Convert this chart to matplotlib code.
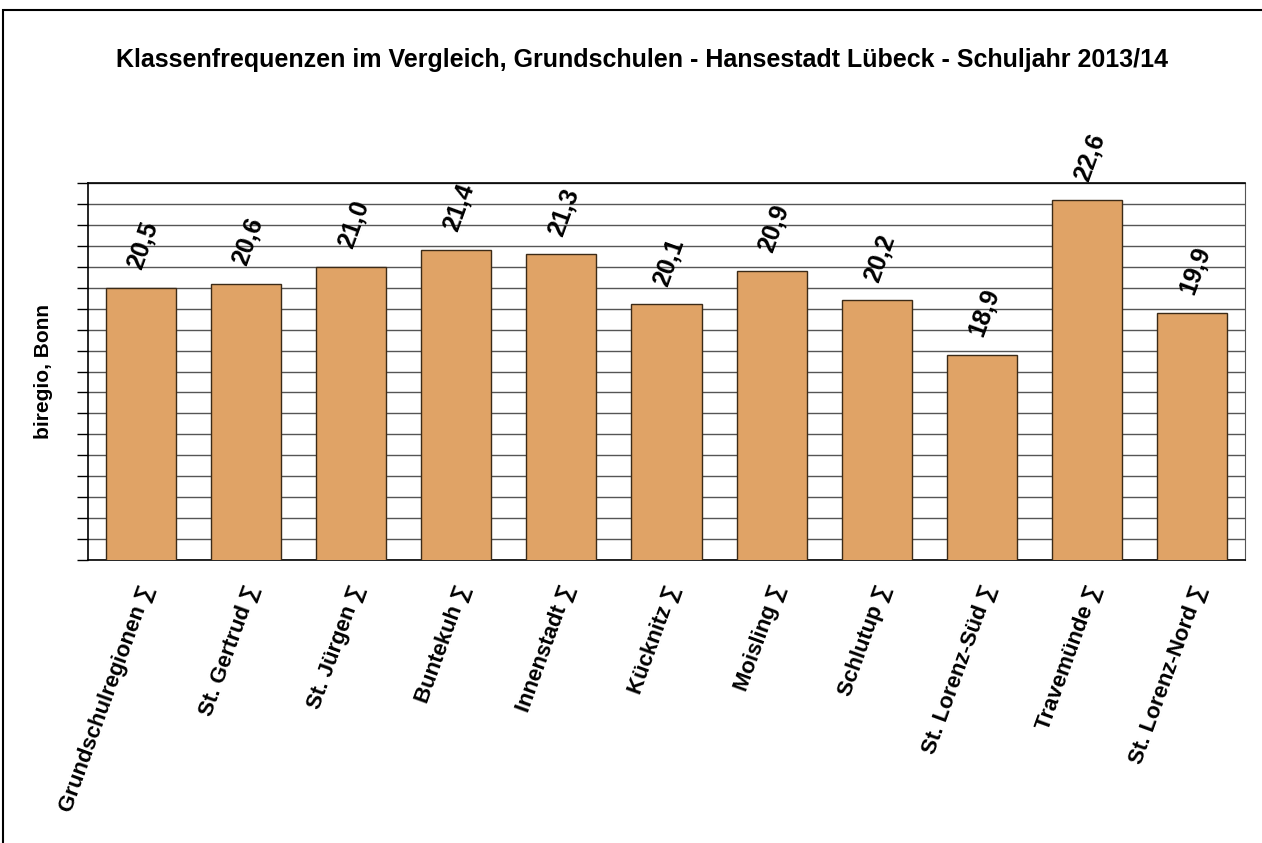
import numpy as np
import matplotlib.pyplot as plt
from matplotlib.patches import Rectangle
import matplotlib.transforms as mtransforms

regions = ['Grundschulregionen', 'St. Gertrud', 'St. Jürgen', 'Buntekuh', 'Innenstadt',
           'Kücknitz', 'Moisling', 'Schlutup', 'St. Lorenz-Süd', 'Travemünde', 'St. Lorenz-Nord']
values = [20.5, 20.6, 21.0, 21.4, 21.3, 20.1, 20.9, 20.2, 18.9, 22.6, 19.9]

title = 'Klassenfrequenzen im Vergleich, Grundschulen - Hansestadt Lübeck - Schuljahr 2013/14'
fam = ['Liberation Sans', 'DejaVu Sans']
plt.rcParams['font.family'] = fam

fig = plt.figure(figsize=(12.62, 8.43), dpi=100)
ax = fig.add_axes([88 / 1262, 1 - 560 / 843, (1245 - 88) / 1262, (560 - 183) / 843])

x = np.arange(len(regions))
ax.bar(x, values, width=0.667, color='#E0A366', edgecolor='#3b2a17', linewidth=1.0, zorder=3)

ax.set_xlim(-0.5, len(regions) - 0.5)
ax.set_ylim(14, 23)
ax.set_yticks(np.arange(14, 23.01, 0.5))
ax.set_yticklabels([])
ax.tick_params(axis='y', direction='out', length=8, width=1, colors='black')
ax.tick_params(axis='x', length=0)
ax.yaxis.grid(True, color='#555555', linewidth=1.0, zorder=0)
ax.set_axisbelow(True)
for s in ['left', 'top', 'bottom']:
    ax.spines[s].set_color('black')
    ax.spines[s].set_linewidth(1.2)
ax.spines['right'].set_color('#555555')

# value labels
for xi, v in zip(x, values):
    ax.annotate(f'{v:.1f}'.replace('.', ','), (xi, v), xytext=(-4, 14), textcoords='offset points',
                rotation=70, rotation_mode='anchor', ha='left', va='center',
                fontsize=18, fontweight='bold', family=fam)

# category labels
ax.set_xticks(x)
ax.set_xticklabels([r + ' ∑' for r in regions], rotation=70, rotation_mode='anchor',
                   ha='right', va='center', fontsize=16, fontweight='bold', family=fam)
offset = mtransforms.ScaledTranslation(8 / 100, -21 / 100, fig.dpi_scale_trans)
for lbl in ax.get_xticklabels():
    lbl.set_transform(lbl.get_transform() + offset)

ax.set_ylabel('biregio, Bonn', fontsize=15, fontweight='bold', labelpad=14)

fig.text(0.509, 1 - 60 / 843, title, ha='center', va='center', fontsize=18, fontweight='bold')

# outer frame
fig.patches.append(Rectangle((3 / 1262, -0.1), 1.2, 1 - 10 / 843 + 0.1, transform=fig.transFigure,
                             fill=False, edgecolor='black', linewidth=1.5))

fig.savefig('out.png', dpi=100)
